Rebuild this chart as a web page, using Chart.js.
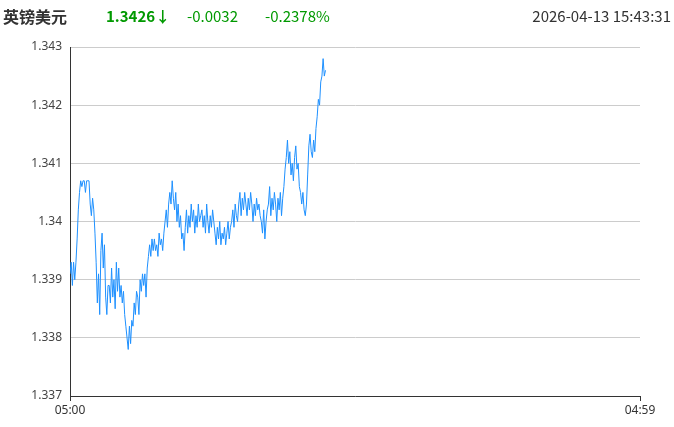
<!DOCTYPE html>
<html>
<head>
<meta charset="utf-8">
<script src="https://cdn.jsdelivr.net/npm/chart.js"></script>
<style>
  html, body { margin: 0; padding: 0; background: #fff; }
  #wrap { position: relative; width: 674px; height: 427px; overflow: hidden; }
  #head { position: absolute; left: 0; top: 0; width: 674px; height: 32px;
          font-family: "Noto Sans CJK SC", "Noto Sans", sans-serif; font-size: 15px; line-height: 32px; }
  #head span { position: absolute; top: 0; white-space: nowrap; }
  .name { left: 3px; color: #333; font-weight: bold; font-size: 16px; }
  .price { left: 106px; color: #009900; font-weight: bold; }
  .chg { left: 187px; color: #009900; }
  .pct { left: 265px; color: #009900; }
  .time { right: 3px; color: #333; }
  canvas { position: absolute; left: 0; top: 0; }
</style>
</head>
<body>
<div id="wrap">
  <canvas id="fx" width="674" height="427"></canvas>
  <div id="head">
    <span class="name">英镑美元</span>
    <span class="price">1.3426↓</span>
    <span class="chg">-0.0032</span>
    <span class="pct">-0.2378%</span>
    <span class="time">2026-04-13 15:43:31</span>
  </div>
</div>
<script>
// GBP/USD intraday, one quote every 3 minutes starting 05:00
const stepMinutes = 3;
const sessionMinutes = 1439;
const xTickLabels = ["05:00", "04:59"];
const yTickLabels = ["1.337", "1.338", "1.339", "1.34", "1.341", "1.342", "1.343"];
const prices = [
  1.3391, 1.3393, 1.3389, 1.3393, 1.3390, 1.3393,
  1.3397, 1.3402, 1.3405,
  1.3407, 1.3406, 1.3407, 1.3407, 1.3405, 1.3407, 1.3407, 1.3407,
  1.3403, 1.3401, 1.3404, 1.3402,
  1.3398, 1.3393, 1.3386, 1.3391,
  1.3384, 1.3395, 1.3398, 1.3392, 1.3396,
  1.3387, 1.3384, 1.3389,
  1.3389, 1.3386, 1.3392, 1.3387, 1.3390, 1.3385, 1.3393, 1.3388, 1.3392, 1.3387,
  1.3389, 1.3386, 1.3388, 1.3384, 1.3382,
  1.3380, 1.3378, 1.3382, 1.3379,
  1.3383, 1.3382, 1.3386, 1.3384, 1.3388, 1.3387, 1.3384, 1.3390, 1.3388,
  1.3391, 1.3389, 1.3391, 1.3387, 1.3392, 1.3394,
  1.3396, 1.3394, 1.3397, 1.3395,
  1.3397, 1.3395, 1.3396, 1.3394, 1.3398, 1.3396, 1.3397, 1.3395, 1.3398,
  1.3400, 1.3402, 1.3399, 1.3403,
  1.3405, 1.3403, 1.3407, 1.3404,
  1.3402, 1.3405, 1.3400, 1.3403, 1.3399, 1.3401, 1.3397, 1.3398, 1.3395,
  1.3399, 1.3402, 1.3398, 1.3401, 1.3399, 1.3403, 1.3400, 1.3402, 1.3398, 1.3401, 1.3399, 1.3403, 1.3400, 1.3401,
  1.3402, 1.3399, 1.3401, 1.3398, 1.3403, 1.3400, 1.3398, 1.3401, 1.3399, 1.3402, 1.3400,
  1.3398, 1.3396, 1.3399, 1.3397, 1.3400, 1.3396, 1.3398, 1.3397, 1.3399, 1.3396, 1.3398, 1.3400, 1.3397, 1.3399,
  1.3400, 1.3402, 1.3399, 1.3403, 1.3401, 1.3400,
  1.3403, 1.3405, 1.3401, 1.3404, 1.3402, 1.3405, 1.3403, 1.3401, 1.3404, 1.3402, 1.3405, 1.3403, 1.3400, 1.3403, 1.3401, 1.3404, 1.3402, 1.3403, 1.3401,
  1.3400, 1.3398, 1.3402, 1.3397, 1.3400, 1.3402,
  1.3403, 1.3406, 1.3401, 1.3404, 1.3402, 1.3405, 1.3403, 1.3400, 1.3404, 1.3402, 1.3405, 1.3401, 1.3404,
  1.3406, 1.3409, 1.3411, 1.3414, 1.3410,
  1.3412, 1.3408, 1.3410, 1.3407, 1.3411, 1.3413, 1.3409, 1.3410,
  1.3406, 1.3405, 1.3403, 1.3405, 1.3402, 1.3401, 1.3403,
  1.3408, 1.3413, 1.3415, 1.3412,
  1.3411, 1.3414, 1.3412, 1.3416,
  1.3418, 1.3421, 1.3420, 1.3424,
  1.3425, 1.3428, 1.3425, 1.3426
];

const points = prices.map((p, i) => ({ x: i * stepMinutes, y: p }));

new Chart(document.getElementById("fx"), {
  type: "line",
  data: {
    datasets: [{
      data: points,
      borderColor: "#1e90ff",
      borderWidth: 1,
      pointRadius: 0,
      fill: false,
      tension: 0
    }]
  },
  options: {
    responsive: false,
    animation: false,
    layout: { padding: { top: 47, right: 34, left: 0, bottom: 0 } },
    plugins: { legend: { display: false }, tooltip: { enabled: false } },
    scales: {
      x: {
        type: "linear",
        min: 0,
        max: sessionMinutes,
        afterBuildTicks: s => { s.ticks = [{ value: 0 }, { value: sessionMinutes }]; },
        afterFit: s => { s.height = 31; },
        ticks: {
          color: "#333",
          font: { family: "'Noto Sans', sans-serif", size: 12 },
          maxRotation: 0,
          autoSkip: false,
          padding: 2,
          callback: (v, i) => xTickLabels[i]
        },
        grid: { drawOnChartArea: false, drawTicks: true, tickLength: 5, color: "#333" },
        border: { color: "#333" }
      },
      y: {
        min: 1.337,
        max: 1.343,
        afterBuildTicks: s => { s.ticks = yTickLabels.map(t => ({ value: parseFloat(t) })); },
        afterFit: s => { s.width = 70; },
        ticks: {
          color: "#444",
          font: { family: "'Noto Sans', sans-serif", size: 12 },
          padding: 8,
          callback: (v, i) => yTickLabels[i]
        },
        grid: { color: "#ccc", drawTicks: false },
        border: { color: "#333" }
      }
    }
  }
});
</script>
</body>
</html>
